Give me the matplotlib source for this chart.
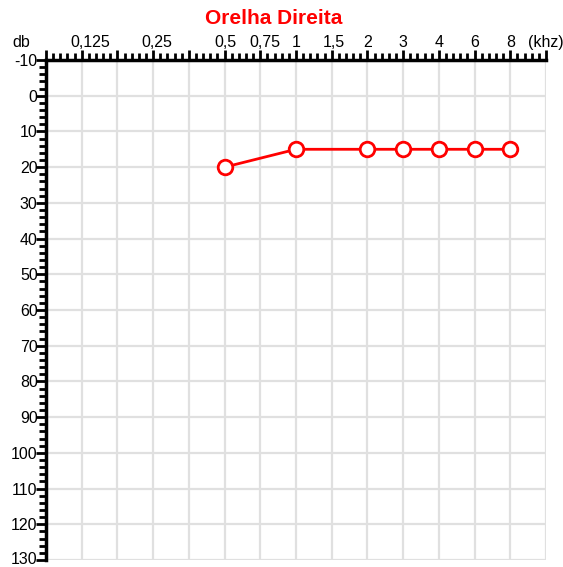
import matplotlib.pyplot as plt
from matplotlib.ticker import MultipleLocator
from matplotlib.transforms import ScaledTranslation
import numpy as np

plt.rcParams['font.family'] = ['Liberation Sans', 'DejaVu Sans']
plt.rcParams['axes.unicode_minus'] = False

# eixo x categórico (posições igualmente espaçadas)
x_labels = ["", "0,125", "", "0,25", "", "0,5", "0,75", "1", "1,5", "2", "3", "4", "6", "8", "(khz)"]
y_ticks = list(range(-10, 131, 10))

# limiares da orelha direita
freqs = ["0,5", "1", "2", "3", "4", "6", "8"]
db = [20, 15, 15, 15, 15, 15, 15]

pos = [x_labels.index(f) for f in freqs]

fig = plt.figure(figsize=(5.63, 5.67), dpi=100)
ax = fig.add_axes([46 / 563, 1 - 560 / 567, 500 / 563, 500 / 567])

ax.set_xlim(0, len(x_labels) - 1)
ax.set_ylim(130, -10)

ax.xaxis.tick_top()
ax.set_xticks(range(len(x_labels)))
ax.set_xticklabels(x_labels)
ax.xaxis.set_minor_locator(MultipleLocator(0.2))
ax.set_yticks(y_ticks)
ax.yaxis.set_minor_locator(MultipleLocator(2))

ax.tick_params(which='major', length=7, width=2, labelsize=11.5, pad=1, color='black')
ax.tick_params(which='minor', length=5, width=2, color='black')
ax.tick_params(axis='x', pad=0)
ax.tick_params(axis='y', pad=-1)

# os rótulos decimais ficam um pouco à direita do tick
shift = {"0,125": 9, "0,25": 4, "0,5": 1, "0,75": 5, "1,5": 2}
for lbl in ax.get_xticklabels():
    dx = shift.get(lbl.get_text(), 0)
    if dx:
        lbl.set_transform(lbl.get_transform() + ScaledTranslation(dx / 100, 0, fig.dpi_scale_trans))

# o último rótulo (130) encosta na borda; sobe um pouco para não cortar
last = ax.get_yticklabels()[-1]
last.set_transform(last.get_transform() + ScaledTranslation(0, 2 / 100, fig.dpi_scale_trans))

ax.grid(True, which='major', color='#e0e0e0', linewidth=1.6, zorder=0)
ax.set_axisbelow(True)

for s in ['right', 'bottom']:
    ax.spines[s].set_visible(False)
for s in ['left', 'top']:
    ax.spines[s].set_linewidth(2.5)

ax.plot(pos, db, color='red', linewidth=2, marker='o', markersize=10.5,
        markerfacecolor='white', markeredgecolor='red', markeredgewidth=2,
        clip_on=False, zorder=3)

ax.text(-0.05, 1.02, "db", transform=ax.transAxes, ha='center', va='bottom', fontsize=11.5)
fig.text(274 / 563, 1 - 18 / 567, "Orelha Direita", color='red', fontsize=15,
         fontweight='bold', ha='center', va='center')

fig.savefig("out.png", dpi=100)
